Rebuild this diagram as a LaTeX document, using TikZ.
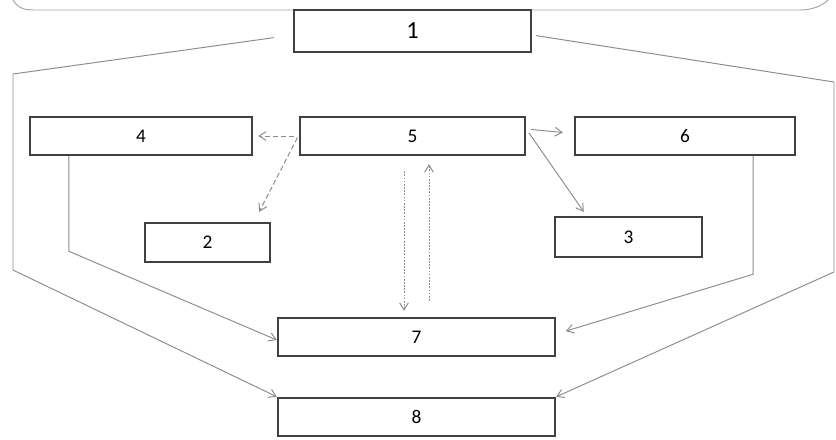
\documentclass[tikz,border=0pt]{standalone}
\usepackage{fontspec}
\setmainfont{Carlito}
\usetikzlibrary{arrows.meta, calc}

\begin{document}
\begin{tikzpicture}[x=0.02cm, y=-0.02cm,
  blk/.style={draw=black!75, line width=1.4pt, fill=white, inner sep=0pt,
              font=\fontsize{11}{13}\selectfont},
  wire/.style={draw=black!45, line width=0.55pt, -{Straight Barb[length=4pt, width=5pt]}},
  plain/.style={draw=black!45, line width=0.55pt},
  dwire/.style={wire, dash pattern=on 3pt off 1.5pt},
  owire/.style={wire, dash pattern=on 1pt off 0.8pt},
]
  \useasboundingbox (0,0) rectangle (836,440);

  % frame edge
  \draw[plain, black!35] (13,0) .. controls (18,8) and (24,10) .. (34,10) -- (800,10)
    .. controls (812,10) and (822,6) .. (828,0);

  \node[blk, minimum width=4.74cm, minimum height=0.84cm,
        font=\fontsize{14}{16}\selectfont] (n1) at (412.5,31) {1};

  \node[blk, minimum width=4.44cm, minimum height=0.76cm] (n4) at (141,136) {4};
  \node[blk, minimum width=4.5cm, minimum height=0.76cm]  (n5) at (412.5,136) {5};
  \node[blk, minimum width=4.4cm, minimum height=0.76cm]  (n6) at (685,136) {6};

  \node[blk, minimum width=2.5cm, minimum height=0.78cm]  (n2) at (207.5,242.5) {2};
  \node[blk, minimum width=2.94cm, minimum height=0.8cm]  (n3) at (628.5,237) {3};

  \node[blk, minimum width=5.54cm, minimum height=0.76cm] (n7) at (416.5,337) {7};
  \node[blk, minimum width=5.54cm, minimum height=0.76cm] (n8) at (416.5,417) {8};

  % side paths from 1
  \coordinate (l1) at (13,74);
  \coordinate (l2) at (13,270);
  \coordinate (r1) at (834,82);
  \coordinate (r2) at (834,272);
  \draw[plain, shorten <=0.38cm] ([yshift=-0.08cm]n1.west) -- (l1) -- (l2);
  \draw[wire] (l2) -- (n8.north west);
  \draw[plain, shorten <=0.08cm] ([yshift=-0.08cm]n1.east) -- (r1) -- (r2);
  \draw[wire] (r2) -- (n8.north east);

  % Arrows
  \draw[dwire, shorten <=0.1cm, shorten >=0.1cm] (n5.west) -- (n4.east);
  \draw[dwire, shorten <=0.06cm] ([yshift=0.02cm]n5.west) -- ([xshift=-0.24cm, yshift=0.2cm]n2.north east);
  \draw[wire, shorten <=0.1cm, shorten >=0.22cm] ([yshift=0.14cm]n5.east) -- ([yshift=0.05cm]n6.west);
  \draw[wire, shorten <=0.1cm] ([yshift=0.14cm]n5.east) -- ([xshift=0.6cm, yshift=0.08cm]n3.north west);
  \draw[owire, shorten <=0.3cm, shorten >=0.12cm] ([xshift=-0.25cm]n7.north |- n5.south) -- ([xshift=-0.25cm]n7.north);
  \draw[owire, shorten <=0.32cm, shorten >=0.16cm] ([xshift=0.25cm]n7.north) -- ([xshift=0.25cm]n7.north |- n5.south);

  \draw[wire] ([xshift=0.8cm]n4.south west) -- ++(0,95) -- ([yshift=-0.06cm]n7.west);
  \draw[wire, shorten >=0.2cm] ([xshift=-0.86cm]n6.south east) -- ++(0,118) -- ([yshift=0.06cm]n7.east);
\end{tikzpicture}
\end{document}
